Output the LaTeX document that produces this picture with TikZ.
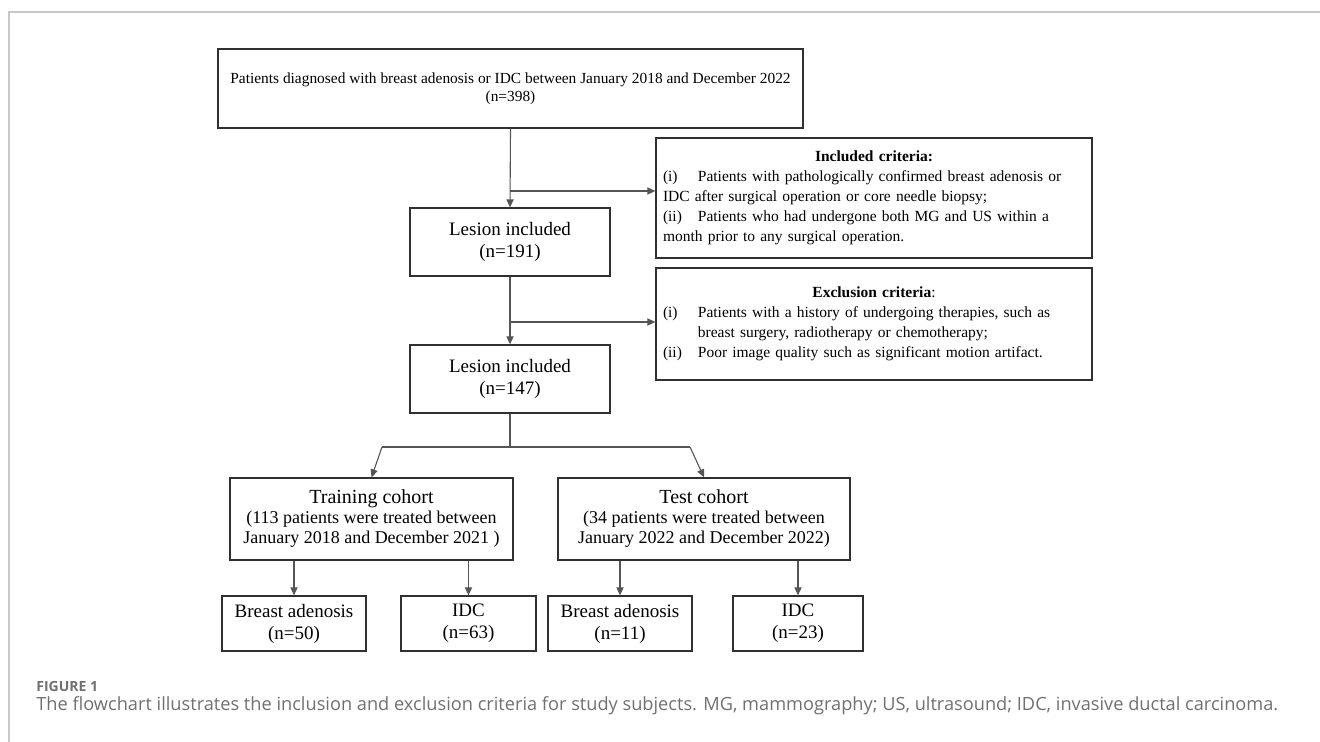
\documentclass[tikz,border=0pt]{standalone}
\usepackage{fontspec}
\setmainfont{Liberation Serif}
\newfontfamily\capfont{Open Sans}
\usetikzlibrary{arrows.meta}
\definecolor{boxLine}{HTML}{303030}
\definecolor{linkGray}{HTML}{555555}
\definecolor{frameGray}{HTML}{C8C8C8}
\definecolor{capGray}{HTML}{707070}
\newcommand{\lbl}[1]{\makebox[2.25em][l]{#1}}

\begin{document}
\begin{tikzpicture}[x=0.5pt,y=-0.5pt,
  box/.style={draw=boxLine,line width=0.65pt,align=center,inner sep=0pt,font=\fontsize{9.5}{11}\selectfont},
  crit/.style={draw=boxLine,line width=0.65pt,align=left,inner ysep=0pt,inner xsep=3.5pt,text width=211pt,minimum width=218pt,font=\fontsize{7.75}{10}\selectfont},
  leaf/.style={box,minimum height=27.5pt},
  link/.style={linkGray,line width=0.55pt,-{Triangle[length=4pt,width=3.6pt]}},
  plain/.style={linkGray,line width=0.55pt},
  frame/.style={frameGray,line width=0.7pt}]
  \useasboundingbox (0,0) rectangle (1320,742);
  \draw[frame] (9,742) -- (9,12) -- (1320,12);
  % main column
  \node[box,minimum width=292.5pt,minimum height=39.5pt,font=\fontsize{7.7}{9}\selectfont] (top) at (510.5,88.5)
    {Patients diagnosed with breast adenosis or IDC between January 2018 and December 2022\\(n=398)};
  \node[box,minimum width=100pt,minimum height=34pt] (les1) at (510,242) {Lesion included\\(n=191)};
  \node[box,minimum width=100pt,minimum height=34pt] (les2) at (510,379) {Lesion included\\(n=147)};
  % criteria boxes
  \node[crit,minimum height=60pt] (incl) at (874,198) {%
    {\centering\bfseries Included criteria:\par}
    \lbl{(i)}Patients with pathologically confirmed breast adenosis or\\
    IDC after surgical operation or core needle biopsy;\\
    \lbl{(ii)}Patients who had undergone both MG and US within a\\
    month prior to any surgical operation.};
  \node[crit,minimum height=56pt] (excl) at (874,324) {%
    {\centering\textbf{Exclusion criteria}:\par}
    \lbl{(i)}Patients with a history of undergoing therapies, such as\\
    \hspace*{2.25em}breast surgery, radiotherapy or chemotherapy;\\
    \lbl{(ii)}Poor image quality such as significant motion artifact.};
  \draw[link] (top.south) -- (les1.north);
  \coordinate (j1) at (510,191);
  \draw[link] (j1) -- (j1 -| incl.west);
  \draw[link] (les1.south) -- (les2.north);
  \coordinate (j2) at (510,322);
  \draw[link] (j2) -- (j2 -| excl.west);
  % cohorts
  \node[box,minimum width=141.5pt,minimum height=41pt,font=\fontsize{9}{10}\selectfont] (train) at (371.5,519)
    {{\fontsize{10}{10}\selectfont Training cohort}\\(113 patients were treated between\\January 2018 and December 2021 )};
  \node[box,minimum width=146pt,minimum height=41pt,font=\fontsize{9}{10}\selectfont] (test) at (704,519)
    {{\fontsize{10}{10}\selectfont Test cohort}\\(34 patients were treated between\\January 2022 and December 2022)};
  \coordinate (sp) at (510,447);
  \coordinate (spl) at (382,447);
  \coordinate (spr) at (690,447);
  \draw[plain] (les2.south) -- (sp);
  \draw[plain] (spl) -- (spr);
  \draw[link] (spl) -- (train.north);
  \draw[link] (spr) -- (test.north);
  % subgroups
  \node[leaf,minimum width=72pt] (ba1) at (294,623.5) {Breast adenosis\\(n=50)};
  \node[leaf,minimum width=67.5pt] (idc1) at (468.5,623.5) {IDC\\(n=63)};
  \node[leaf,minimum width=72pt] (ba2) at (620,623.5) {Breast adenosis\\(n=11)};
  \node[leaf,minimum width=65pt] (idc2) at (798,623.5) {IDC\\(n=23)};
  \draw[link] (train.south -| ba1.north) -- (ba1.north);
  \draw[link] (train.south -| idc1.north) -- (idc1.north);
  \draw[link] (test.south -| ba2.north) -- (ba2.north);
  \draw[link] (test.south -| idc2.north) -- (idc2.north);
  % caption
  \node[anchor=west,inner sep=0pt,capGray,font=\capfont\bfseries\fontsize{7}{8}\selectfont] (fig) at (36,686) {FIGURE 1};
  \node[anchor=west,inner sep=0pt,capGray,font=\capfont\fontsize{9.1}{10}\selectfont] (cap) at (36,706)
    {The flowchart illustrates the inclusion and exclusion criteria for study subjects. MG, mammography; US, ultrasound; IDC, invasive ductal carcinoma.};
\end{tikzpicture}
\end{document}
